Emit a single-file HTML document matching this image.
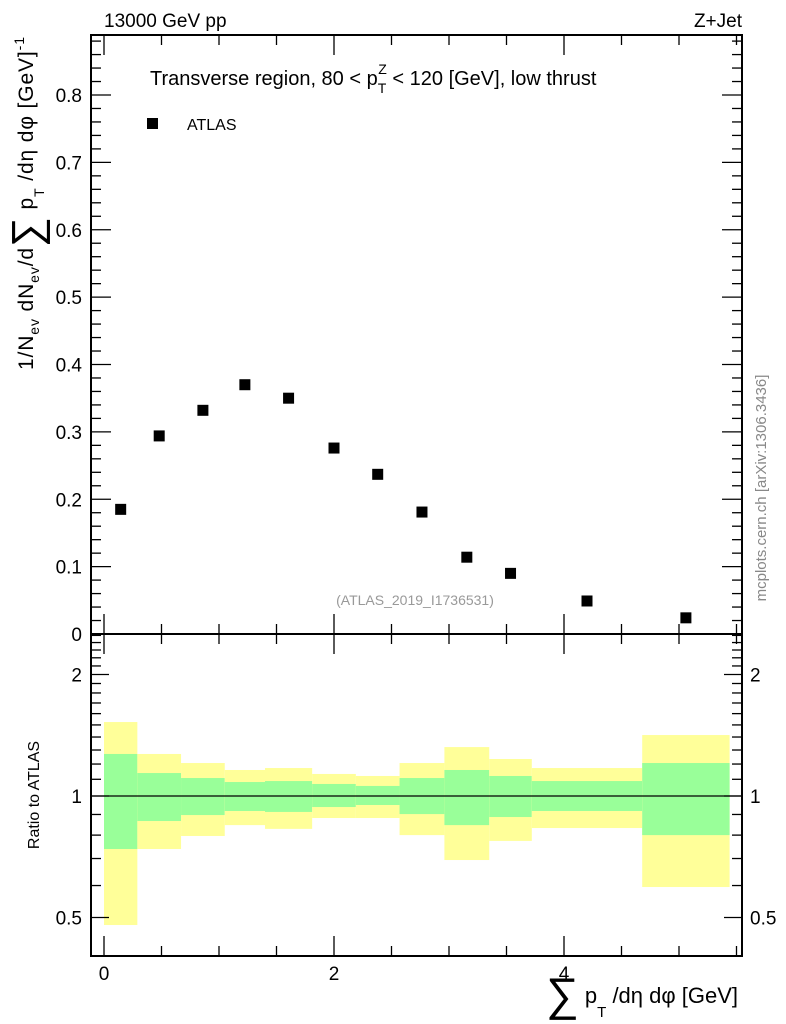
<!DOCTYPE html>
<html><head><meta charset="utf-8"><style>
body{margin:0;background:#fff}
svg{display:block;font-family:"Liberation Sans",sans-serif}
</style></head><body>
<svg id="c" width="786" height="1024" viewBox="0 0 786 1024" xmlns="http://www.w3.org/2000/svg">
<g id="bands"></g>
<g id="marks"></g>
<g id="axes"></g>
<text x="104" y="27" font-size="19">13000 GeV pp</text>
<text x="742" y="27" font-size="19" text-anchor="end">Z+Jet</text>
<text x="150" y="85" font-size="20">Transverse region, 80 &lt; p<tspan font-size="14" dy="8">T</tspan><tspan font-size="14" dx="-8" dy="-19">Z</tspan><tspan dy="11"> &lt; 120 [GeV], low thrust</tspan></text>
<rect x="147" y="118" width="11" height="11" fill="#000"/>
<text x="187" y="130" font-size="16">ATLAS</text>
<text x="415" y="605" font-size="14" fill="#999" text-anchor="middle">(ATLAS_2019_I1736531)</text>
<text transform="translate(766,488) rotate(-90)" font-size="15" fill="#888" text-anchor="middle">mcplots.cern.ch [arXiv:1306.3436]</text>
<text transform="translate(39,795) rotate(-90)" font-size="16" text-anchor="middle">Ratio to ATLAS</text>
<text transform="translate(33,370) rotate(-90)" font-size="21" textLength="333">1/N<tspan font-size="14" dy="6">ev</tspan><tspan dy="-6"> dN</tspan><tspan font-size="14" dy="6">ev</tspan><tspan dy="-6">/d</tspan><tspan font-size="42" dy="8">∑</tspan><tspan dy="-8"> p</tspan><tspan font-size="14" dy="11">T</tspan><tspan dy="-11"> /dη dφ  [GeV]</tspan><tspan font-size="14" dy="-9">-1</tspan></text>
<text x="546" y="1003" font-size="22"><tspan font-size="46" dy="7">∑</tspan><tspan dy="-7"> p</tspan><tspan font-size="15" dy="14">T</tspan><tspan dy="-14"> /dη dφ [GeV]</tspan></text>
</svg>
<script>
const edges=[0,0.29,0.67,1.05,1.4,1.81,2.19,2.57,2.96,3.35,3.72,4.68,5.44];
const values=[0.185,0.294,0.332,0.370,0.350,0.276,0.237,0.181,0.114,0.090,0.049,0.024];
const yelLo=[0.479,0.739,0.796,0.847,0.829,0.882,0.882,0.800,0.694,0.774,0.833,0.595];
const yelHi=[1.525,1.271,1.207,1.160,1.173,1.134,1.121,1.207,1.322,1.235,1.173,1.416];
const grnLo=[0.739,0.867,0.897,0.918,0.913,0.939,0.950,0.902,0.847,0.887,0.918,0.800];
const grnHi=[1.271,1.140,1.108,1.083,1.089,1.071,1.059,1.108,1.160,1.121,1.089,1.207];
const mainTicks=[0,0.1,0.2,0.3,0.4,0.5,0.6,0.7,0.8];
const mainTickLabels=["0","0.1","0.2","0.3","0.4","0.5","0.6","0.7","0.8"];
const xTicks=[0,2,4];
const ratioTicks=[0.5,1,2];
const NS="http://www.w3.org/2000/svg";
const L=91,R=742,T=35,M=634,B=956;
const X=v=>104+v*115;
const Y=v=>634-v*673.75;
const RY=v=>796-Math.log10(v)*403.6;
function el(tag,a,p){const e=document.createElementNS(NS,tag);for(const k in a)e.setAttribute(k,a[k]);p.appendChild(e);return e;}
const bands=document.getElementById('bands'),marks=document.getElementById('marks'),axes=document.getElementById('axes');
for(let i=0;i<values.length;i++){
 const x0=X(edges[i]),x1=X(edges[i+1]);
 const y=el('rect',{x:x0,y:RY(yelHi[i]),width:x1-x0,height:RY(yelLo[i])-RY(yelHi[i]),fill:'#ffff99'},bands);
 
 
 const g=el('rect',{x:x0,y:RY(grnHi[i]),width:x1-x0,height:RY(grnLo[i])-RY(grnHi[i]),fill:'#99ff99'},bands);
 
 
 const m=el('rect',{x:X((edges[i]+edges[i+1])/2)-5.5,y:Y(values[i])-5.5,width:11,height:11,fill:'#000'},marks);
 
 
}
el('line',{x1:L,x2:R,y1:RY(1),y2:RY(1),stroke:'#000','stroke-width':1.2},axes);
el('rect',{x:L,y:T,width:R-L,height:M-T,fill:'none',stroke:'#000','stroke-width':2},axes);
el('rect',{x:L,y:M,width:R-L,height:B-M,fill:'none',stroke:'#000','stroke-width':2},axes);
function tk(x1,y1,x2,y2){el('line',{x1,y1,x2,y2,stroke:'#000','stroke-width':1.3},axes);}
for(let v=0;v<=0.885;v+=0.02){const y=Y(v),maj=Math.abs(v*10-Math.round(v*10))<1e-6;const len=maj?20:10;tk(L,y,L+len,y);tk(R,y,R-len,y);}
mainTicks.forEach((v,i)=>{const t=el('text',{x:82,y:Y(v)+7,'font-size':19,'text-anchor':'end'},axes);t.textContent=mainTickLabels[i];});
for(let v=0;v<=5.5;v+=0.5){const x=X(v),maj=v%2===0;const len=maj?20:10;[M,B].forEach(b=>tk(x,b,x,b-len));tk(x,T,x,T+len);tk(x,M,x,M+len);}
xTicks.forEach(v=>{const t=el('text',{x:X(v),y:980,'font-size':19,'text-anchor':'middle'},axes);t.textContent=v;});
const rminor=[0.5,0.6,0.7,0.8,0.9,1,1.1,1.2,1.3,1.4,1.5,1.6,1.7,1.8,1.9,2,2.1,2.2,2.3,2.4,2.5];
rminor.forEach(v=>{const maj=ratioTicks.includes(v);const len=maj?18:10;tk(L,RY(v),L+len,RY(v));tk(R,RY(v),R-len,RY(v));});
ratioTicks.forEach(v=>{[[82,'end'],[750,'start']].forEach(([x,a])=>{const t=el('text',{x,y:RY(v)+7,'font-size':19,'text-anchor':a},axes);t.textContent=v;});});
</script>
</body></html>
